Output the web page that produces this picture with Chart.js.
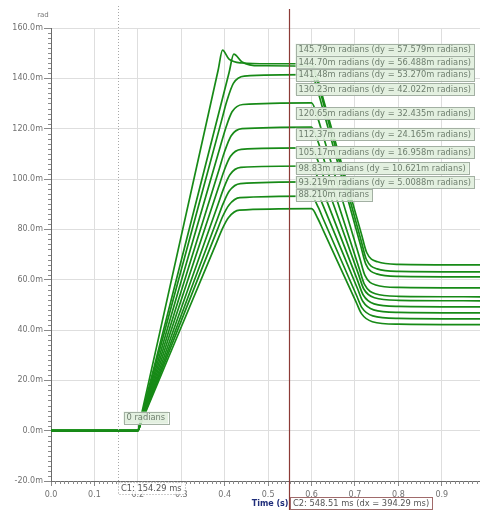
<!DOCTYPE html>
<html>
<head>
<meta charset="utf-8">
<script src="https://cdn.jsdelivr.net/npm/chart.js@4.4.1/dist/chart.umd.min.js"></script>
<style>
  html, body { margin: 0; padding: 0; background: #fff; }
  #wrap { width: 480px; height: 510px; }
</style>
</head>
<body>
<div id="wrap"><canvas id="plot" width="480" height="510"></canvas></div>
<script>
// Traces: [time (s), value (m radians)]
const trace1 = [[0,0],[0.2,0],[0.207,5.4],[0.385,143.3],[0.395,151.2],[0.41,147.6],[0.44,146.1],[0.5,145.8],[0.6,145.79],[0.615,139.1],[0.627,131.8],[0.715,78.1],[0.727,70.8],[0.752,67.1],[0.8,66.1],[0.99,65.9]];
const trace2 = [[0,0],[0.2,0],[0.207,4.7],[0.41,142.2],[0.421,149.6],[0.44,146.5],[0.48,145.0],[0.6,144.70],[0.615,137.8],[0.627,130.3],[0.714,75.7],[0.726,68.2],[0.751,64.3],[0.8,63.3],[0.99,63.1]];
const trace3 = [[0,0],[0.2,0],[0.207,4.5],[0.392,122.7],[0.405,131.0],[0.42,138.0],[0.445,140.9],[0.6,141.48],[0.615,134.6],[0.627,127.2],[0.713,73.7],[0.725,66.2],[0.75,62.3],[0.8,61.3],[0.99,61.1]];
const trace4 = [[0,0],[0.2,0],[0.207,4.2],[0.39,113.0],[0.402,120.0],[0.417,126.7],[0.442,129.6],[0.6,130.23],[0.615,123.9],[0.627,117.0],[0.711,68.6],[0.723,61.7],[0.748,57.9],[0.8,56.9],[0.99,56.7]];
const trace5 = [[0,0],[0.2,0],[0.207,3.9],[0.388,104.3],[0.4,111.0],[0.415,117.2],[0.44,120.0],[0.6,120.65],[0.615,114.8],[0.627,108.5],[0.71,64.3],[0.722,58.1],[0.747,54.4],[0.8,53.4],[0.99,53.2]];
const trace6 = [[0,0],[0.2,0],[0.207,3.6],[0.386,96.8],[0.398,103.0],[0.413,108.9],[0.438,111.8],[0.6,112.37],[0.615,107.1],[0.627,101.3],[0.708,62.2],[0.72,56.4],[0.745,52.8],[0.8,51.8],[0.99,51.6]];
const trace7 = [[0,0],[0.2,0],[0.207,3.4],[0.385,90.1],[0.397,96.0],[0.412,101.7],[0.437,104.6],[0.6,105.17],[0.615,100.3],[0.627,94.9],[0.707,59.2],[0.719,53.9],[0.744,50.4],[0.8,49.4],[0.99,49.2]];
const trace8 = [[0,0],[0.2,0],[0.207,3.2],[0.384,84.5],[0.396,90.0],[0.411,95.3],[0.436,98.2],[0.6,98.83],[0.615,94.3],[0.627,89.3],[0.706,56.4],[0.718,51.4],[0.743,48.0],[0.8,47.0],[0.99,46.8]];
const trace9 = [[0,0],[0.2,0],[0.207,3.1],[0.383,79.8],[0.395,85.0],[0.41,89.7],[0.435,92.6],[0.6,93.219],[0.615,88.9],[0.627,84.1],[0.704,53.6],[0.716,48.9],[0.741,45.6],[0.8,44.6],[0.99,44.4]];
const trace10 = [[0,0],[0.2,0],[0.207,2.9],[0.382,75.0],[0.394,80.0],[0.409,84.7],[0.434,87.6],[0.6,88.21],[0.615,84.1],[0.627,79.6],[0.703,51.0],[0.715,46.5],[0.74,43.3],[0.8,42.3],[0.99,42.1]];
const traces = [trace1, trace2, trace3, trace4, trace5, trace6, trace7, trace8, trace9, trace10];

// Cursor readouts
const c1Time = 0.15429;
const c2Time = 0.54851;
const c2Values = [145.79, 144.70, 141.48, 130.23, 120.65, 112.37, 105.17, 98.83, 93.219, 88.21];
const c2Labels = ['145.79m', '144.70m', '141.48m', '130.23m', '120.65m', '112.37m', '105.17m', '98.83m', '93.219m', '88.210m'];
const dyLabels = ['57.579m', '56.488m', '53.270m', '42.022m', '32.435m', '24.165m', '16.958m', '10.621m', '5.0088m', null];
const c1Label = '0 radians';
const c1Value = 0;

// Axis ticks
const xTicks = [0, 0.1, 0.2, 0.3, 0.4, 0.5, 0.6, 0.7, 0.8, 0.9];
const yTicks = [-20, 0, 20, 40, 60, 80, 100, 120, 140, 160];

const labelFont = '8.3px "DejaVu Sans"';

function boxText(ctx, txt, x, cy, fill, stroke, color, dash) {
    ctx.font = labelFont;
    const w = ctx.measureText(txt).width + 6;
    ctx.fillStyle = fill;
    ctx.fillRect(x, cy - 6, w, 12);
    ctx.setLineDash(dash || []);
    ctx.strokeStyle = stroke;
    ctx.lineWidth = 1;
    ctx.strokeRect(Math.round(x) + 0.5, Math.round(cy - 6) + 0.5, Math.round(w), 12);
    ctx.setLineDash([]);
    ctx.fillStyle = color;
    ctx.textAlign = 'left';
    ctx.textBaseline = 'middle';
    ctx.fillText(txt, x + 3, cy + 0.5);
    return w;
}

const overlay = {
    id: 'overlay',
    afterDatasetsDraw(chart) {
        const { ctx, chartArea: a, scales: { x, y } } = chart;
        ctx.save();

        // minor ticks
        ctx.strokeStyle = '#8a8a8a';
        ctx.lineWidth = 1;
        ctx.beginPath();
        for (let v = -20; v <= 160; v += 2) {
            if (v % 20 === 0) continue;
            const py = Math.round(y.getPixelForValue(v)) + 0.5;
            ctx.moveTo(a.left - 3, py);
            ctx.lineTo(a.left, py);
        }
        for (let i = 1; i < 99; i++) {
            if (i % 10 === 0) continue;
            const px = Math.round(x.getPixelForValue(i / 100)) + 0.5;
            ctx.moveTo(px, a.bottom);
            ctx.lineTo(px, a.bottom + 3);
        }
        ctx.stroke();

        // cursor C1 (dotted)
        const p1 = Math.round(x.getPixelForValue(c1Time)) + 0.5;
        ctx.strokeStyle = '#a8a8a8';
        ctx.setLineDash([1, 2]);
        ctx.beginPath();
        ctx.moveTo(p1, 6);
        ctx.lineTo(p1, a.bottom + 14);
        ctx.stroke();
        ctx.setLineDash([]);

        // cursor C2 (solid)
        const p2 = Math.round(x.getPixelForValue(c2Time)) + 0.5;
        ctx.strokeStyle = '#8c3a36';
        ctx.lineWidth = 1.2;
        ctx.beginPath();
        ctx.moveTo(p2, 9);
        ctx.lineTo(p2, 510);
        ctx.stroke();

        // C2 value boxes, stacked top-down
        let prev = -100;
        c2Values.forEach((v, i) => {
            let cy = y.getPixelForValue(v) - 14;
            if (cy < prev + 12.5) cy = prev + 12.5;
            prev = cy;
            const txt = dyLabels[i] ? c2Labels[i] + ' radians (dy = ' + dyLabels[i] + ' radians)' : c2Labels[i] + ' radians';
            boxText(ctx, txt, p2 + 6, cy, 'rgba(226,239,222,0.95)', '#a3b0a3', '#6f7f6f');
        });

        // C1 value box
        boxText(ctx, c1Label, p1 + 5, y.getPixelForValue(c1Value) - 13, 'rgba(226,239,222,0.95)', '#a3b0a3', '#6f7f6f');

        // bottom cursor readouts
        boxText(ctx, 'C1: 154.29 ms', p1 - 0.5, a.bottom + 7, 'rgba(255,255,255,0.85)', '#9a9a9a', '#555', [1, 2]);
        boxText(ctx, 'C2: 548.51 ms (dx = 394.29 ms)', p2 + 0.5, 503, 'rgba(255,255,255,0.9)', '#a06a6a', '#555');

        // axis titles
        ctx.font = 'bold 8px "DejaVu Sans"';
        ctx.fillStyle = '#1f2d7a';
        ctx.textAlign = 'right';
        ctx.textBaseline = 'middle';
        ctx.fillText('Time (s)', p2 - 1, 503.5);
        ctx.font = '7px "DejaVu Sans"';
        ctx.fillStyle = '#777';
        ctx.textAlign = 'center';
        ctx.fillText('rad', 43, 15);

        ctx.restore();
    }
};

const ctx = document.getElementById('plot').getContext('2d');
const chart = new Chart(ctx, {
    type: 'line',
    data: {
        datasets: traces.map((t, i) => ({
            label: 'trace ' + (i + 1),
            data: t.map(p => ({ x: p[0], y: p[1] })),
            borderColor: '#178a17',
            borderWidth: 1.7,
            pointRadius: 0,
            fill: false,
            cubicInterpolationMode: 'monotone'
        }))
    },
    options: {
        responsive: false,
        animation: false,
        layout: { padding: { top: 28, left: 0, right: 0, bottom: 0 } },
        plugins: {
            legend: { display: false },
            tooltip: { enabled: false }
        },
        scales: {
            x: {
                type: 'linear',
                min: 0,
                max: 0.988,
                afterBuildTicks: s => { s.ticks = xTicks.map(v => ({ value: v })); },
                afterFit: s => { s.height = 29; },
                grid: { color: '#dedede', tickLength: 5, tickColor: '#8a8a8a' },
                border: { color: '#6a6a6a' },
                ticks: {
                    padding: 4,
                    color: '#707070',
                    font: { family: 'DejaVu Sans', size: 8 },
                    maxRotation: 0,
                    callback: v => v.toFixed(1)
                }
            },
            y: {
                min: -20,
                max: 160,
                afterBuildTicks: s => { s.ticks = yTicks.map(v => ({ value: v })); },
                afterFit: s => { s.width = 51; },
                grid: { color: '#dedede', tickLength: 7, tickColor: '#8a8a8a' },
                border: { color: '#6a6a6a' },
                ticks: {
                    padding: 1,
                    color: '#707070',
                    font: { family: 'DejaVu Sans', size: 8 },
                    callback: v => v.toFixed(1) + 'm'
                }
            }
        }
    },
    plugins: [overlay]
});
</script>
</body>
</html>
